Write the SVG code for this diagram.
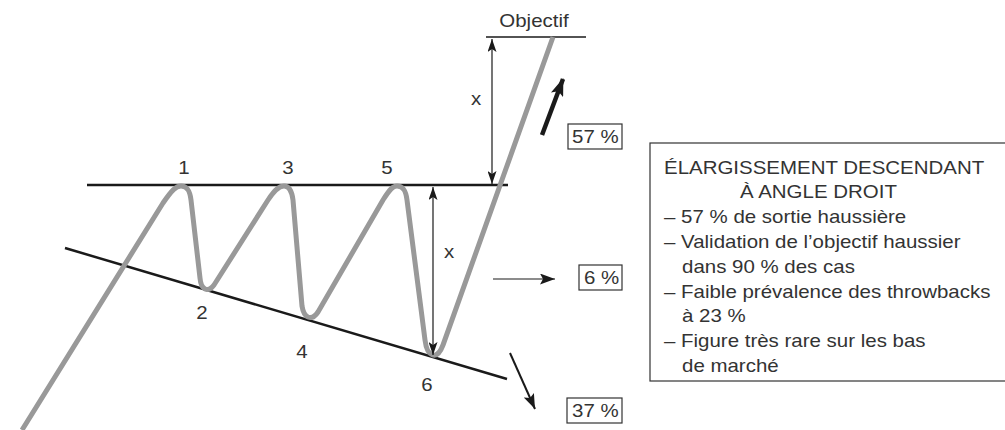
<svg xmlns="http://www.w3.org/2000/svg" width="1005" height="430" viewBox="0 0 1005 430">
<style>
text{font-family:"Liberation Sans",Arial,sans-serif;font-size:17.5px;fill:#333}
.mid{text-anchor:middle}
.bk{stroke:#1a1a1a;fill:none}
.box{stroke:#333;stroke-width:1.2;fill:none}
.thin{stroke:#1a1a1a;stroke-width:1.2;fill:none}
</style>
<defs>
<marker id="ah" viewBox="0 0 13 9" refX="13" refY="4.5" markerWidth="13" markerHeight="9" markerUnits="userSpaceOnUse" orient="auto-start-reverse">
<path d="M0,0 L13,4.5 L0,9 L3,4.5 Z" fill="#1a1a1a"/>
</marker>
<marker id="ahb" viewBox="0 0 18 13" refX="17" refY="6.5" markerWidth="18" markerHeight="13" markerUnits="userSpaceOnUse" orient="auto">
<path d="M0,0 L18,6.5 L0,13 L4,6.5 Z" fill="#1a1a1a"/>
</marker>
<marker id="ahm" viewBox="0 0 15 11" refX="15" refY="5.5" markerWidth="15" markerHeight="11" markerUnits="userSpaceOnUse" orient="auto">
<path d="M0,0 L15,5.5 L0,11 L3,5.5 Z" fill="#1a1a1a"/>
</marker>
</defs>
<rect width="1005" height="430" fill="#fff"/>
<g id="lines">
<line class="bk" x1="87" y1="185" x2="508" y2="185" stroke-width="2.5"/>
<line class="bk" x1="486" y1="37" x2="586" y2="37" stroke-width="1.5"/>
<line class="bk" x1="65" y1="248" x2="507" y2="379" stroke-width="2.5"/>
</g>
<g id="price">
<path d="M22,430 L163,203 C172,190 176,186 181,186 C188,186 190,192 191,200 L200,278 C201,290 208,293 214,285 L268,200 C276,188 280,186 284,186 C290,186 292,192 293,200 L302,306 C304,319 312,321 318,312 L383,200 C390,189 393,186 397,186 C404,186 406,192 407,200 L425,340 C427,357 437,361 443,345 L553,37" fill="none" stroke="#999" stroke-width="5" stroke-linejoin="round"/>
</g>
<g id="connectors">
<line class="thin" x1="492" y1="39" x2="492" y2="184" marker-start="url(#ah)" marker-end="url(#ah)"/>
<line class="thin" x1="433" y1="187" x2="433" y2="355" marker-start="url(#ah)" marker-end="url(#ah)"/>
<line class="thin" x1="493" y1="279" x2="555" y2="279" marker-end="url(#ahm)"/>
<line class="bk" x1="510" y1="353" x2="535" y2="409" stroke-width="2" marker-end="url(#ahm)"/>
<line class="bk" x1="542" y1="135" x2="563" y2="79" stroke-width="4.5" marker-end="url(#ahb)"/>
</g>
<g id="labels">
<text class="mid" transform="translate(534 27) scale(1.17 1)">Objectif</text>
<text class="mid" transform="translate(184 174) scale(1.17 1)">1</text>
<text class="mid" transform="translate(288 174) scale(1.17 1)">3</text>
<text class="mid" transform="translate(387 174) scale(1.17 1)">5</text>
<text class="mid" transform="translate(202 319) scale(1.17 1)">2</text>
<text class="mid" transform="translate(302 358) scale(1.17 1)">4</text>
<text class="mid" transform="translate(427 391) scale(1.17 1)">6</text>
<text class="mid" transform="translate(476 105) scale(1.17 1)">x</text>
<text class="mid" transform="translate(449 258) scale(1.17 1)">x</text>
</g>
<g id="pct57">
<rect class="box" x="568" y="124" width="54" height="25"/>
<text transform="translate(572 143) scale(1.17 1)">57 %</text>
</g>
<g id="pct6">
<rect class="box" x="579" y="265" width="43" height="25"/>
<text transform="translate(584 284) scale(1.17 1)">6 %</text>
</g>
<g id="pct37">
<rect class="box" x="567" y="398" width="55" height="25"/>
<text transform="translate(572 417) scale(1.17 1)">37 %</text>
</g>
<g id="legend">
<rect class="box" x="650" y="143" width="400" height="238"/>
<text transform="translate(664 173.5) scale(1.17 1)">ÉLARGISSEMENT DESCENDANT</text>
<text transform="translate(740 198.3) scale(1.17 1)">À ANGLE DROIT</text>
<text transform="translate(664 223.1) scale(1.17 1)">– 57 % de sortie haussière</text>
<text transform="translate(664 247.9) scale(1.17 1)">– Validation de l’objectif haussier</text>
<text transform="translate(682 272.7) scale(1.17 1)">dans 90 % des cas</text>
<text transform="translate(664 297.5) scale(1.17 1)">– Faible prévalence des throwbacks</text>
<text transform="translate(682 322.3) scale(1.17 1)">à 23 %</text>
<text transform="translate(664 347.1) scale(1.17 1)">– Figure très rare sur les bas</text>
<text transform="translate(682 371.9) scale(1.17 1)">de marché</text>
</g>
</svg>
